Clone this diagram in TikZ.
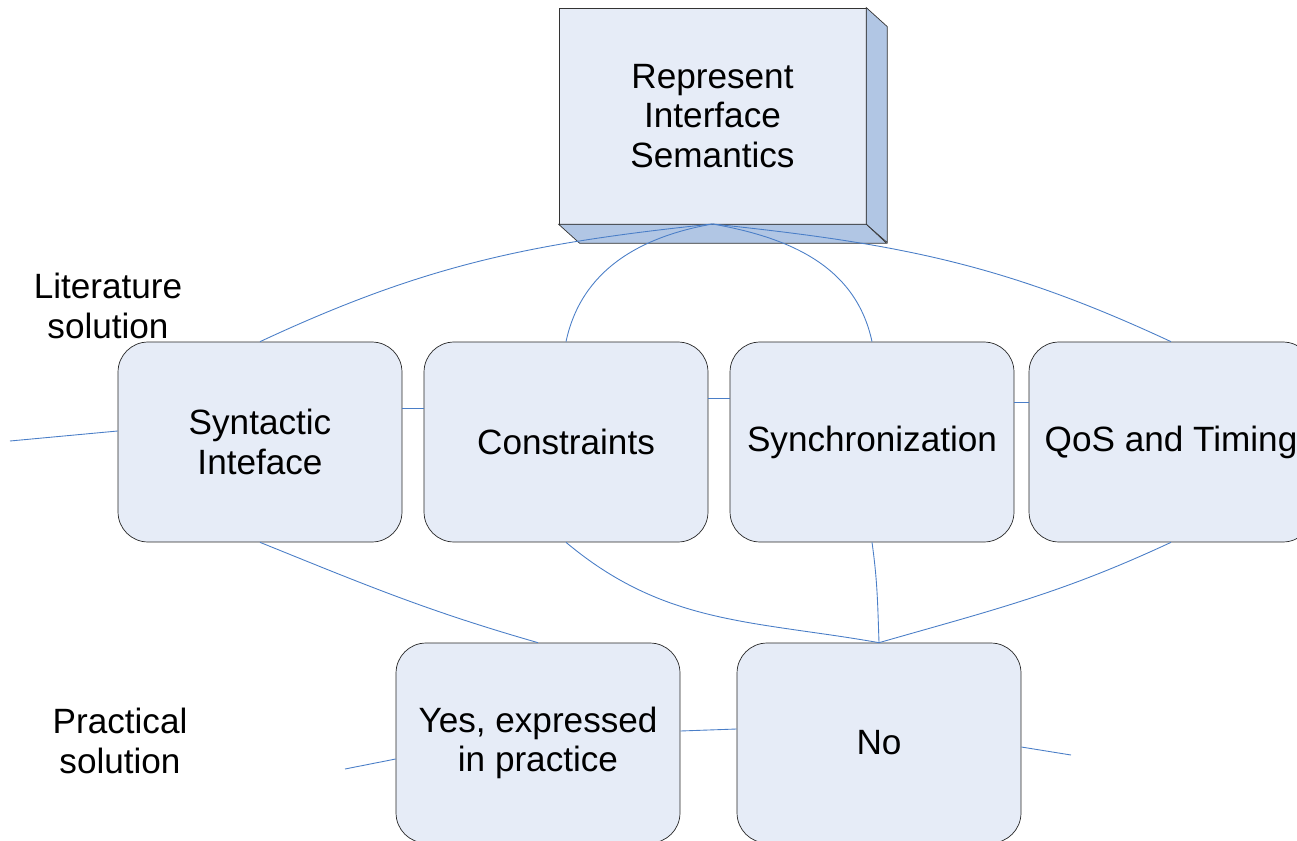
\documentclass[tikz,border=0pt]{standalone}
\usepackage{fontspec}
\setmainfont{Liberation Sans}
\usepackage{xcolor}
\definecolor{boxfill}{HTML}{E6ECF7}
\definecolor{sidefill}{HTML}{B1C6E4}
\definecolor{linkblue}{HTML}{4A7EC7}

\tikzset{
  choice/.style={draw=black!85, fill=boxfill, rounded corners=0.6cm, minimum width=5.68cm, minimum height=4cm, align=center, font=\fontsize{20}{22.4}\selectfont},
  lbl/.style={align=center, font=\fontsize{20}{22.4}\selectfont},
  link/.style={draw=linkblue, line width=0.5pt}
}

\begin{document}
\begin{tikzpicture}[x=0.02cm, y=-0.02cm]
\useasboundingbox (0,0) rectangle (1297,841);

%top block
\node [draw=black!80, fill=boxfill, minimum width=6.14cm, minimum height=4.32cm, align=center, font=\fontsize{20}{22.4}\selectfont] (sem) at (712.5,116) {Represent\\Interface\\Semantics};
\fill [sidefill, draw=black!80] (sem.north east) -- ++(21,19) -- ++(0,216) -- (sem.south east) -- cycle;
\fill [sidefill, draw=black!80] (sem.south west) -- ++(21,19) -- ++(307,0) -- (sem.south east) -- cycle;
\coordinate (semb) at (712.5,224);

%literature row
\node [choice] (syn) at (260,442) {Syntactic\\Inteface};
\node [choice] (con) at (566,442) {Constraints};
\node [choice] (sync) at (872,442) {Synchronization};
\node [choice] (qos) at (1171,442) {QoS and Timing};

%practical row
\node [choice] (yes) at (538,743) {Yes, expressed\\in practice};
\node [choice] (no) at (879,743) {No};

%row labels
\node [lbl] (lit) at (108,306) {Literature\\solution};
\node [lbl] (prac) at (120,741) {Practical\\solution};

%loose ends
\coordinate (synl) at (10,441); \coordinate (yesl) at (345,769); \coordinate (nor) at (1071,755);

%top links
\draw [link] (semb) to [out=186, in=25] (syn.north);
\draw [link] (semb) to [out=190, in=78] (con.north);
\draw [link] (semb) to [out=-10, in=102] (sync.north);
\draw [link] (semb) to [out=-6, in=155] (qos.north);

%side links
\draw [link] (synl) -- (syn.west |- 0,431);
\draw [link] (syn.east |- 0,408) -- (con.west |- 0,408);
\draw [link] (con.east |- 0,398) -- (sync.west |- 0,398);
\draw [link] (sync.east |- 0,402) -- (qos.west |- 0,402);
\draw [link] (yesl) -- (yes.west |- 0,759);
\draw [link] (yes.east |- 0,731) -- (no.west |- 0,729);
\draw [link] (no.east |- 0,747) -- (nor);

%bottom links
\draw [link] (syn.south) to [out=-22, in=164] (yes.north);
\draw [link] (con.south) to [out=-40, in=170] (no.north);
\draw [link] (sync.south) to [out=-82, in=92] (no.north);
\draw [link] (qos.south) to [out=-155, in=16] (no.north);

\end{tikzpicture}
\end{document}
